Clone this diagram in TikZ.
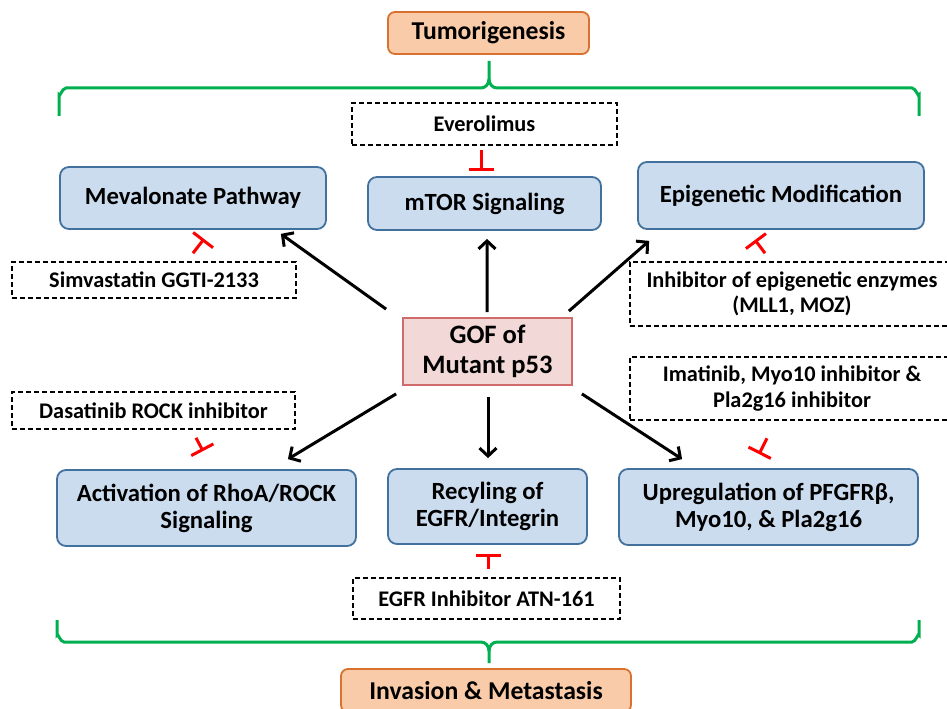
\documentclass[tikz,border=0pt]{standalone}
\usepackage{fontspec}
\setmainfont{Carlito}
\usetikzlibrary{arrows.meta}
\definecolor{boxfill}{HTML}{CCDCEF}
\definecolor{boxline}{HTML}{41719C}
\definecolor{orfill}{HTML}{F9CBA8}
\definecolor{orline}{HTML}{D9722E}
\definecolor{pkfill}{HTML}{F2D9D8}
\definecolor{pkline}{HTML}{CF6B6B}
\definecolor{brgreen}{HTML}{00B050}
\tikzset{
  bluebox/.style={draw=boxline, fill=boxfill, line width=1.8bp, rounded corners=9bp,
    align=center, inner sep=0pt, font=\fontsize{24.8}{27}\selectfont\bfseries},
  orbox/.style={draw=orline, fill=orfill, line width=1.8bp, rounded corners=7bp,
    align=center, inner sep=0pt, font=\fontsize{25.8}{29}\selectfont\bfseries},
  gofbox/.style={draw=pkline, fill=pkfill, line width=1.8bp,
    align=center, inner sep=0pt, font=\fontsize{26.7}{30}\selectfont\bfseries},
  drugbox/.style={draw=black, line width=1.6bp, dash pattern=on 5bp off 3bp,
    align=center, inner sep=0pt, font=\fontsize{22.4}{25.5}\selectfont\bfseries},
  actarrow/.style={line width=3bp, -{Straight Barb[length=8bp,width=17bp]}},
  inhib/.style={red, line width=3bp, -{Bar[width=25bp]}},
  brace/.style={brgreen, line width=3bp},
}
\begin{document}
\begin{tikzpicture}[x=1bp, y=-1bp]
\useasboundingbox (0,0) rectangle (947,709);

\node[orbox, minimum width=201bp, minimum height=42bp] (tum) at (488.5,33) {Tumorigenesis};
\node[orbox, minimum width=290bp, minimum height=43bp] (inv) at (486,690.5) {Invasion \& Metastasis};

% brackets
\draw[brace] (59,116) -- (59,95) to[out=-90,in=180] (66,88) -- (481,88) to[out=0,in=-90] (489,79) -- (489,61);
\draw[brace] (919,116) -- (919,95) to[out=-90,in=0] (912,88) -- (497,88) to[out=180,in=-90] (489,79);
\draw[brace] (57,620) -- (57,635) to[out=90,in=180] (64,642) -- (481,642) to[out=0,in=90] (489,651) -- (489,663);
\draw[brace] (919,620) -- (919,635) to[out=90,in=0] (912,642) -- (497,642) to[out=180,in=90] (489,651);

\node[drugbox, minimum width=265bp, minimum height=42bp] (ever) at (484.5,124) {Everolimus};
\node[bluebox, minimum width=266bp, minimum height=62bp] (mev) at (193,198) {Mevalonate Pathway};
\node[bluebox, minimum width=233bp, minimum height=53bp] (mtor) at (484.5,203.5) {mTOR Signaling};
\node[bluebox, minimum width=286bp, minimum height=67bp] (epi) at (781,195.5) {Epigenetic Modification};
\node[drugbox, minimum width=284bp, minimum height=36bp] (simv) at (154,280) {Simvastatin GGTI-2133};
\node[drugbox, minimum width=324bp, minimum height=64bp] (epiinh) at (792,294) {Inhibitor of epigenetic enzymes\\(MLL1, MOZ)};
\node[gofbox, minimum width=169bp, minimum height=67bp] (gof) at (487.5,351.5) {GOF of\\Mutant p53};
\node[drugbox, minimum width=283bp, minimum height=37bp] (dasa) at (153.5,410.5) {Dasatinib ROCK inhibitor};
\node[drugbox, minimum width=324bp, minimum height=63bp] (imat) at (792,388.5) {Imatinib, Myo10 inhibitor \&\\Pla2g16 inhibitor};
\node[bluebox, minimum width=299bp, minimum height=76bp] (rho) at (206.5,508) {Activation of RhoA/ROCK\\Signaling};
\node[bluebox, minimum width=199bp, minimum height=75bp] (recy) at (487.5,506.5) {Recyling of\\EGFR/Integrin};
\node[bluebox, minimum width=299bp, minimum height=76bp] (upr) at (768.5,507) {Upregulation of PFGFRβ,\\Myo10, \& Pla2g16};
\node[drugbox, minimum width=267bp, minimum height=41bp] (egfr) at (486.5,598.5) {EGFR Inhibitor ATN-161};

% activation arrows
\draw[actarrow] ([shift={(-16,-8)}]gof.north west) -- ([shift={(-46,4)}]mev.south east);
\draw[actarrow] ([shift={(-0.5,-5)}]gof.north) -- ([shift={(2.5,8)}]mtor.south);
\draw[actarrow] ([shift={(-4,-6)}]gof.north east) -- ([shift={(12,11)}]epi.south west);
\draw[actarrow] ([shift={(-6,8)}]gof.south west) -- ([shift={(-69,-10)}]rho.north east);
\draw[actarrow] ([shift={(0.5,11)}]gof.south) -- ([shift={(0.5,-10)}]recy.north);
\draw[actarrow] ([shift={(9,8)}]gof.south east) -- ([shift={(64,-9)}]upr.north west);

% inhibitions
\draw[inhib] ([shift={(-3.5,4)}]ever.south) -- ([shift={(-3.5,-5)}]mtor.north);
\draw[inhib] ([shift={(39,-8)}]simv.north) -- ([shift={(11,9)}]mev.south);
\draw[inhib] ([shift={(-27,-8)}]epiinh.north) -- ([shift={(-26,10)}]epi.south);
\draw[inhib] ([shift={(42.5,8)}]dasa.south) -- ([shift={(-3.5,-18)}]rho.north);
\draw[inhib] ([shift={(-25,17.5)}]imat.south) -- ([shift={(-9.5,-14)}]upr.north);
\draw[inhib] ([shift={(1.5,-8)}]egfr.north) -- ([shift={(0.5,9)}]recy.south);
\end{tikzpicture}
\end{document}
